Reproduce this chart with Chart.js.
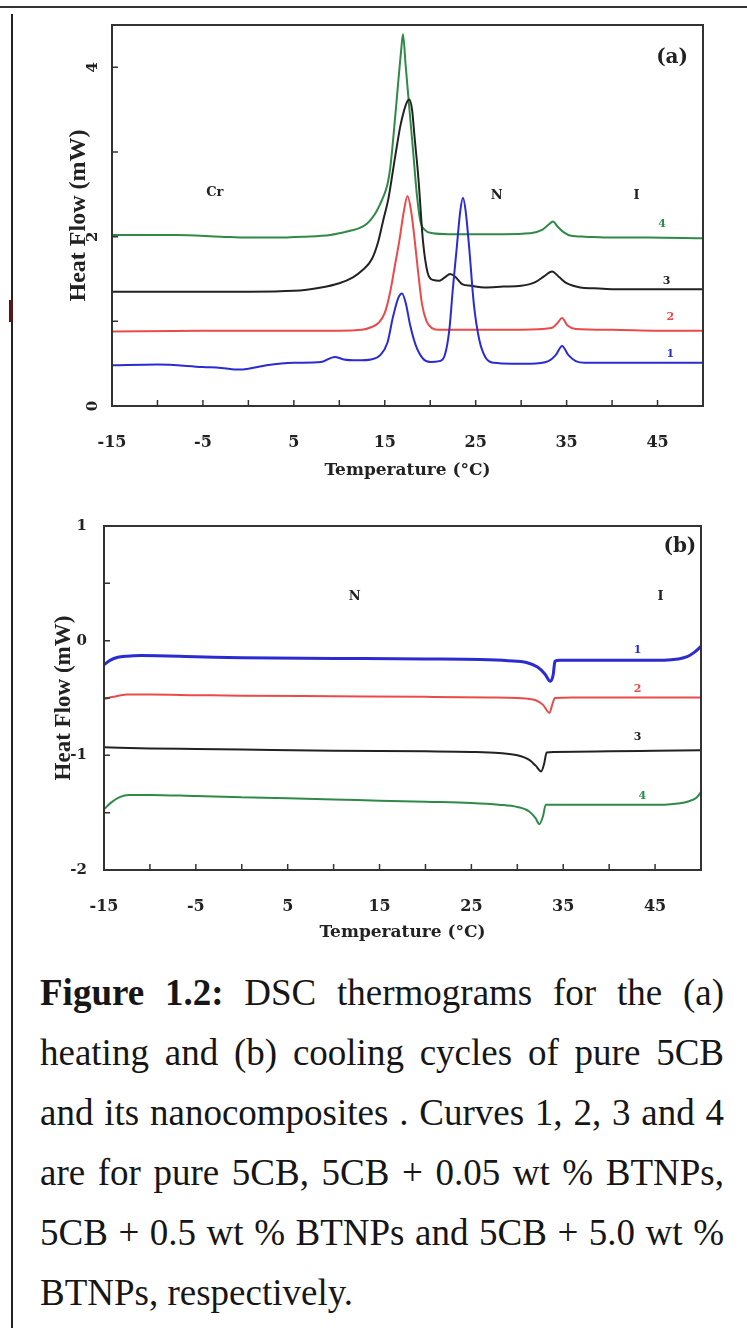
<!DOCTYPE html>
<html>
<head>
<meta charset="utf-8">
<title>DSC thermograms of 5CB and its BTNP nanocomposites</title>
<script src="https://cdn.jsdelivr.net/npm/chart.js@4.4.1/dist/chart.umd.min.js"></script>
<style>
  html, body { margin: 0; padding: 0; background: #fff; }
  body { width: 747px; height: 1328px; position: relative; overflow: hidden; }
  #heating { position: absolute; left: 0; top: 0; }
  #cooling { position: absolute; left: 0; top: 490px; }
  .rule-top { position: absolute; left: 0; top: 6px; width: 747px; height: 2px; background: #333; }
  .rule-left { position: absolute; left: 11px; top: 14px; width: 2px; height: 1314px; background: #222; }
  .rule-mark { position: absolute; left: 9px; top: 300px; width: 4px; height: 22px; background: #5a1616; }
  .caption {
    position: absolute; left: 40px; top: 963px; width: 684px;
    font-family: 'Liberation Serif', 'Times New Roman', Tinos, serif;
    font-size: 37px; line-height: 60px; color: #161616;
  }
  .caption div { text-align: justify; text-align-last: justify; white-space: nowrap; }
  .caption div.last { text-align-last: left; }
</style>
</head>
<body>
<div class="rule-top"></div>
<div class="rule-left"></div>
<div class="rule-mark"></div>
<canvas id="heating" width="747" height="490"></canvas>
<canvas id="cooling" width="747" height="460"></canvas>
<div class="caption">
  <div><b>Figure 1.2:</b> DSC thermograms for the (a)</div>
  <div>heating and (b) cooling cycles of pure 5CB</div>
  <div>and its nanocomposites . Curves 1, 2, 3 and 4</div>
  <div>are for pure 5CB, 5CB + 0.05 wt % BTNPs,</div>
  <div>5CB + 0.5 wt % BTNPs and 5CB + 5.0 wt %</div>
  <div class="last">BTNPs, respectively.</div>
</div>
<script>
// (a) heating runs: temperature (°C) and heat flow (mW) per curve
const heatT1 = [-15, -10, -5, -3, -1, 0, 2, 5, 8, 9.5, 10.5, 12, 13.5, 14.5, 15.3, 15.9, 16.5, 16.9, 17.3, 17.8,
  18.4, 19.2, 20, 21, 21.6, 22.1, 22.5, 22.9, 23.3, 23.6, 23.9, 24.3, 24.8, 25.4, 26.1, 27, 29, 31, 33, 33.8,
  34.5, 35.2, 36, 37, 40, 45, 50];
const heat1 = [0.48, 0.49, 0.46, 0.45, 0.43, 0.44, 0.48, 0.51, 0.52, 0.58, 0.55, 0.54, 0.55, 0.60, 0.75, 1.05, 1.28, 1.33, 1.22, 0.95,
  0.72, 0.56, 0.52, 0.53, 0.60, 0.90, 1.40, 1.85, 2.30, 2.46, 2.30, 1.85, 1.20, 0.78, 0.57, 0.51, 0.50, 0.50, 0.53, 0.60,
  0.71, 0.60, 0.53, 0.51, 0.51, 0.51, 0.51];

const heatT2 = [-15, -5, 5, 10, 12.5, 13.5, 14.3, 15.0, 15.6, 16.1, 16.6, 17.1, 17.5, 17.9, 18.3, 18.7, 19.1, 19.6, 20.2, 21,
  25, 30, 33.3, 34.0, 34.5, 35.1, 36, 40, 45, 50];
const heat2 = [0.88, 0.89, 0.89, 0.89, 0.90, 0.93, 0.98, 1.10, 1.35, 1.65, 1.95, 2.30, 2.48, 2.30, 1.95, 1.55, 1.20, 1.00, 0.92, 0.90,
  0.90, 0.90, 0.92, 0.98, 1.04, 0.95, 0.91, 0.90, 0.89, 0.89];

const heatT3 = [-15, -5, 0, 5, 8, 10, 11.5, 12.5, 13.6, 14.3, 14.8, 15.4, 15.9, 16.3, 16.7, 17.1, 17.4, 17.7, 18.0, 18.3,
  18.7, 19.2, 19.7, 20.3, 21.0, 21.6, 22.2, 22.8, 23.5, 24.5, 26, 28, 30, 31.5, 32.5, 33.4, 34.2, 35, 36.5, 38,
  40, 45, 50];
const heat3 = [1.35, 1.35, 1.35, 1.36, 1.40, 1.45, 1.52, 1.60, 1.74, 1.95, 2.18, 2.45, 2.78, 3.05, 3.30, 3.48, 3.58, 3.62, 3.50, 3.15,
  2.69, 1.95, 1.58, 1.49, 1.48, 1.52, 1.56, 1.52, 1.44, 1.42, 1.40, 1.41, 1.42, 1.46, 1.53, 1.59, 1.52, 1.45, 1.40, 1.39,
  1.38, 1.38, 1.38];

const heatT4 = [-15, -8, -3, 0, 3, 6, 9, 11.2, 12.2, 13.0, 13.6, 14.1, 14.8, 15.3, 15.6, 16.1, 16.5, 16.8, 17.0, 17.3,
  17.7, 18.1, 18.5, 18.9, 19.4, 20.3, 22, 25, 28, 31, 32.3, 33.0, 33.5, 34.0, 34.7, 35.5, 37, 40, 44, 50];
const heat4 = [2.02, 2.02, 2.00, 1.99, 1.99, 2.00, 2.02, 2.07, 2.10, 2.15, 2.22, 2.30, 2.46, 2.62, 2.81, 3.36, 3.85, 4.20, 4.39, 4.02,
  3.52, 3.03, 2.53, 2.19, 2.08, 2.04, 2.03, 2.03, 2.03, 2.04, 2.08, 2.14, 2.18, 2.12, 2.05, 2.01, 2.00, 1.99, 1.99, 1.98];

// (b) cooling runs
const coolT1 = [-15, -14.3, -13.5, -12.5, -11, -5, 0, 10, 20, 26, 29, 31, 32.2, 33.0, 33.6, 33.9, 34.1, 34.6, 40, 46,
  47.5, 48.5, 49.3, 50];
const cool1 = [-0.21, -0.17, -0.145, -0.135, -0.13, -0.14, -0.15, -0.155, -0.16, -0.165, -0.175, -0.19, -0.23, -0.29, -0.355, -0.30, -0.18, -0.17, -0.17, -0.17,
  -0.16, -0.14, -0.10, -0.05];

const coolT2 = [-15, -14, -12.5, -10, -5, 0, 10, 20, 27, 30, 32, 32.8, 33.5, 33.8, 34.1, 36, 42, 50];
const cool2 = [-0.51, -0.49, -0.47, -0.47, -0.475, -0.48, -0.485, -0.49, -0.495, -0.50, -0.52, -0.56, -0.63, -0.56, -0.50, -0.495, -0.495, -0.495];

const coolT3 = [-15, -10, -5, 0, 10, 20, 25, 28, 30, 31.3, 32.0, 32.6, 32.9, 33.2, 34, 40, 45, 50];
const cool3 = [-0.93, -0.94, -0.945, -0.95, -0.96, -0.965, -0.97, -0.98, -1.0, -1.04, -1.09, -1.14, -1.08, -0.975, -0.97, -0.965, -0.96, -0.955];

const coolT4 = [-15, -14.2, -13.3, -12.3, -10, -5, 0, 5, 10, 15, 20, 25, 28, 30, 31.3, 32.0, 32.4, 32.8, 33.1, 35,
  40, 46, 47.5, 48.7, 49.5, 50];
const cool4 = [-1.47, -1.41, -1.365, -1.345, -1.345, -1.355, -1.365, -1.375, -1.385, -1.395, -1.405, -1.415, -1.43, -1.45, -1.49, -1.55, -1.60, -1.53, -1.43, -1.43,
  -1.43, -1.43, -1.42, -1.40, -1.37, -1.32];

// phase and curve labels, placed at (temperature, heat flow)
const phaseNotesA = [['Cr', -3.7, 2.52], ['N', 27.3, 2.48], ['I', 42.7, 2.48]];
const curveNotesA = [['1', 46.4, 0.61], ['2', 46.4, 1.05], ['3', 46.0, 1.48], ['4', 45.5, 2.15]];
const phaseNotesB = [['N', 12.3, 0.38], ['I', 45.6, 0.38]];
const curveNotesB = [['1', 43.1, -0.08], ['2', 43.1, -0.42], ['3', 43.1, -0.84], ['4', 43.6, -1.36]];

const curveColors = ['#2b2bd2', '#ec4a4a', '#222222', '#2f8a48'];
const ink = '#222';
const serifBold = { family: "'DejaVu Serif', serif", weight: 'bold' };

function series(ts, ys, i, width) {
  return {
    data: ts.map((t, k) => ({ x: t, y: ys[k] })),
    borderColor: curveColors[i],
    borderWidth: width,
    pointRadius: 0,
    cubicInterpolationMode: 'monotone',
    fill: false
  };
}

// frame, inward tick marks and the text notes inside the plot box
const plotFrame = {
  id: 'plotFrame',
  afterDraw(chart, args, opts) {
    const { ctx, chartArea: a, scales: { x, y } } = chart;
    ctx.save();
    ctx.strokeStyle = '#333';
    ctx.lineWidth = 1.5;
    ctx.beginPath();
    x.ticks.forEach(t => {
      const px = x.getPixelForValue(t.value);
      ctx.moveTo(px, a.bottom);
      ctx.lineTo(px, a.bottom - 6);
    });
    y.ticks.forEach(t => {
      const py = y.getPixelForValue(t.value);
      ctx.moveTo(a.left, py);
      ctx.lineTo(a.left + 6, py);
    });
    ctx.stroke();
    ctx.lineWidth = 2;
    ctx.strokeRect(a.left, a.top, a.right - a.left, a.bottom - a.top);

    ctx.textAlign = 'center';
    ctx.textBaseline = 'middle';
    ctx.fillStyle = ink;
    ctx.font = "bold 13px 'DejaVu Serif', serif";
    opts.phases.forEach(([txt, t, v]) => ctx.fillText(txt, x.getPixelForValue(t), y.getPixelForValue(v)));
    ctx.font = "bold 11px 'DejaVu Serif', serif";
    opts.curves.forEach(([txt, t, v], i) => {
      ctx.fillStyle = curveColors[i];
      ctx.fillText(txt, x.getPixelForValue(t), y.getPixelForValue(v));
    });
    ctx.fillStyle = ink;
    ctx.font = "bold 20px 'DejaVu Serif', serif";
    ctx.fillText(opts.tag[0], x.getPixelForValue(opts.tag[1]), y.getPixelForValue(opts.tag[2]));
    ctx.restore();
  }
};

function xAxis(axisHeight, titlePad) {
  return {
    type: 'linear', min: -15, max: 50,
    afterFit: s => { s.height = axisHeight; },
    grid: { display: false, drawTicks: false },
    border: { display: false },
    ticks: {
      stepSize: 5, autoSkip: false, maxRotation: 0, padding: 27, color: ink,
      font: { ...serifBold, size: 16 },
      callback: v => ((v + 15) % 10 === 0 ? String(v) : '')
    },
    title: {
      display: true, text: 'Temperature (°C)', color: ink,
      font: { ...serifBold, size: 17 }, padding: { top: 0, bottom: titlePad }
    }
  };
}

new Chart(document.getElementById('heating'), {
  type: 'line',
  data: {
    datasets: [
      series(heatT1, heat1, 0, 2),
      series(heatT2, heat2, 1, 2),
      series(heatT3, heat3, 2, 2),
      series(heatT4, heat4, 3, 2)
    ]
  },
  options: {
    responsive: false,
    animation: false,
    layout: { padding: { left: 0, top: 25, right: 44, bottom: 0 } },
    plugins: {
      legend: { display: false },
      tooltip: { enabled: false },
      plotFrame: { phases: phaseNotesA, curves: curveNotesA, tag: ['(a)', 46.6, 4.11] }
    },
    scales: {
      x: xAxis(84, 9),
      y: {
        type: 'linear', min: 0, max: 4.5,
        afterFit: s => { s.width = 112; },
        grid: { display: false, drawTicks: false },
        border: { display: false },
        ticks: {
          stepSize: 1, includeBounds: false, autoSkip: false,
          minRotation: 90, maxRotation: 90, crossAlign: 'center', padding: 14, color: ink,
          font: { ...serifBold, size: 15 },
          callback: v => (v % 2 === 0 ? String(v) : '')
        },
        title: {
          display: true, text: 'Heat Flow (mW)', color: ink,
          font: { family: "'Liberation Serif', serif", weight: 'bold', size: 24 },
          padding: { top: 64, bottom: 0 }
        }
      }
    }
  },
  plugins: [plotFrame]
});

new Chart(document.getElementById('cooling'), {
  type: 'line',
  data: {
    datasets: [
      series(coolT1, cool1, 0, 3),
      series(coolT2, cool2, 1, 2),
      series(coolT3, cool3, 2, 2),
      series(coolT4, cool4, 3, 2)
    ]
  },
  options: {
    responsive: false,
    animation: false,
    layout: { padding: { left: 0, top: 36, right: 46, bottom: 0 } },
    plugins: {
      legend: { display: false },
      tooltip: { enabled: false },
      plotFrame: { phases: phaseNotesB, curves: curveNotesB, tag: ['(b)', 47.7, 0.82] }
    },
    scales: {
      x: xAxis(80, 7),
      y: {
        type: 'linear', min: -2, max: 1,
        afterFit: s => { s.width = 104; },
        grid: { display: false, drawTicks: false },
        border: { display: false },
        ticks: {
          stepSize: 0.5, autoSkip: false, padding: 17, color: ink,
          font: { ...serifBold, size: 15 },
          callback: v => (Number.isInteger(v) ? String(v) : '')
        },
        title: {
          display: true, text: 'Heat Flow (mW)', color: ink,
          font: { family: "'Liberation Serif', serif", weight: 'bold', size: 23 },
          padding: { top: 50, bottom: 0 }
        }
      }
    }
  },
  plugins: [plotFrame]
});
</script>
</body>
</html>
